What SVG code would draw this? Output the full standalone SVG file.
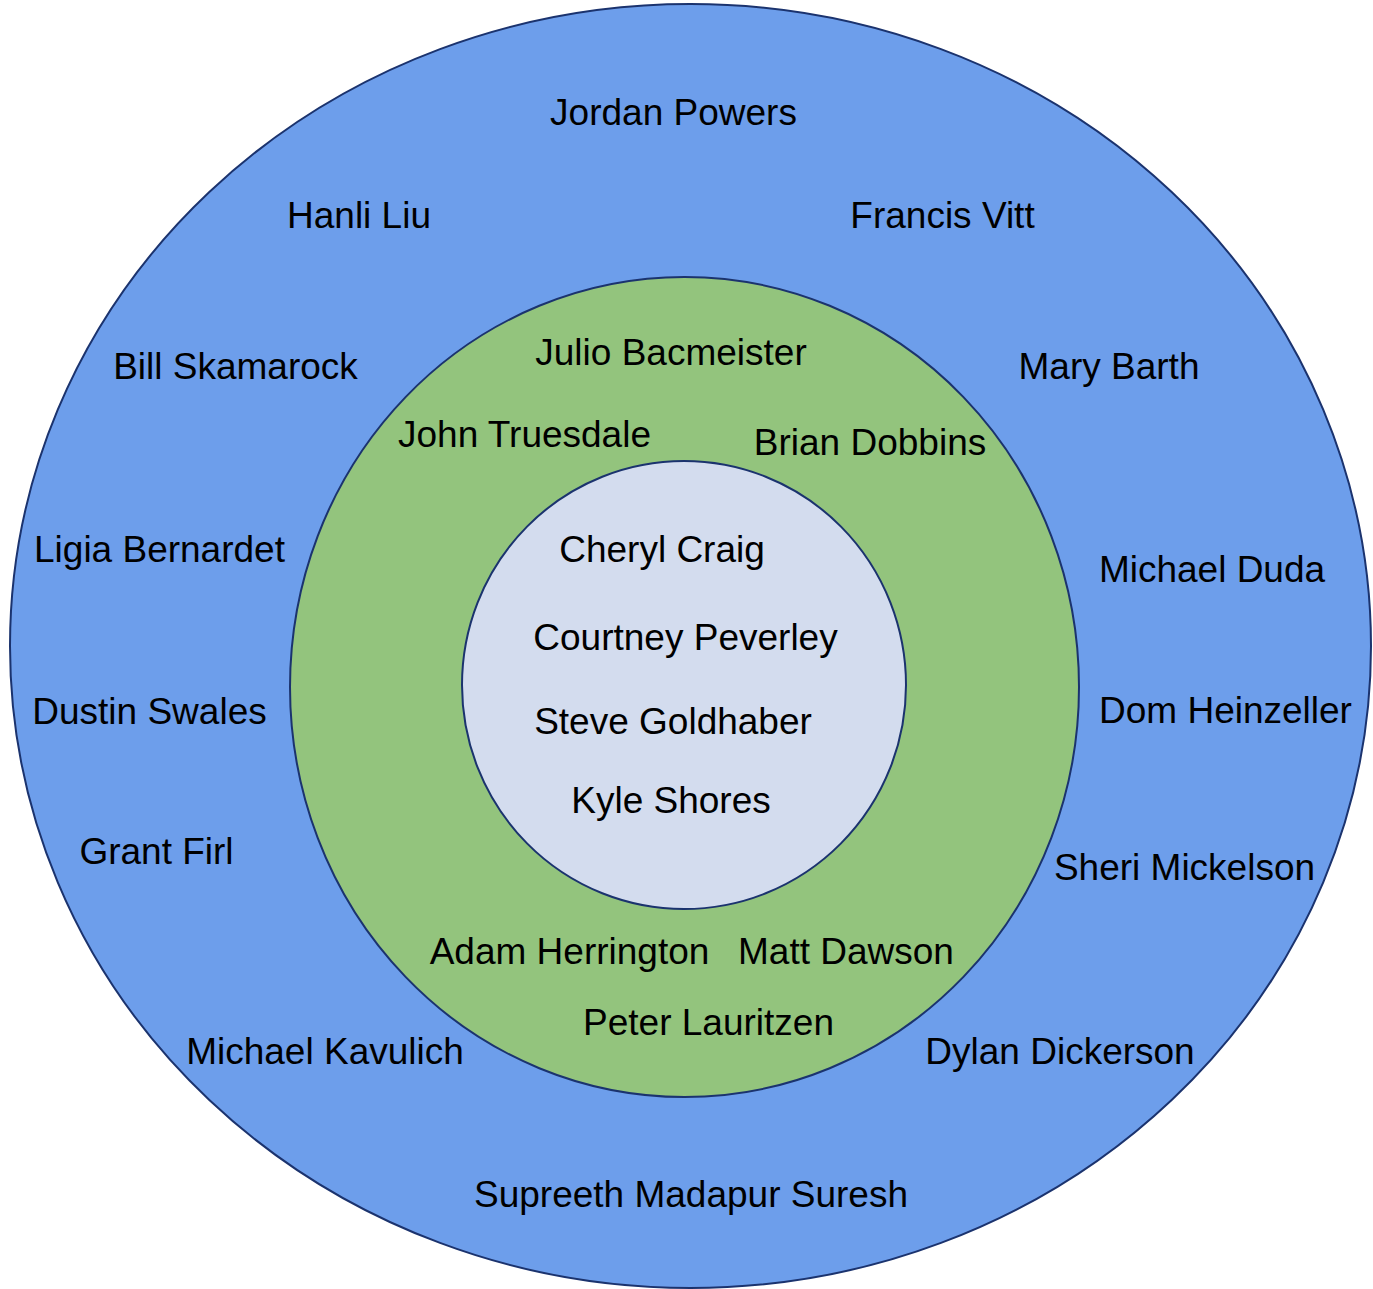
<svg xmlns="http://www.w3.org/2000/svg" width="1373" height="1289" viewBox="0 0 1373 1289">
<style>
.ring{stroke:#1b336e;stroke-width:2}
text{font-family:"Liberation Sans",Arial,Helvetica,sans-serif;font-size:37px;fill:#000;text-anchor:middle}
</style>
<rect width="1373" height="1289" fill="#ffffff"/>
<g id="outer">
<ellipse class="ring" cx="690.5" cy="646" rx="680.5" ry="642" fill="#6d9eeb"/>
</g>
<g id="middle">
<ellipse class="ring" cx="684.5" cy="687" rx="394.5" ry="410" fill="#93c47d"/>
</g>
<g id="inner">
<ellipse class="ring" cx="684" cy="685" rx="222" ry="224" fill="#d3dcee"/>
</g>
<g id="connectors"></g>
<g id="labels">
<text x="673.5" y="125">Jordan Powers</text>
<text x="359" y="228">Hanli Liu</text>
<text x="942.5" y="228">Francis Vitt</text>
<text x="235.5" y="379">Bill Skamarock</text>
<text x="1109" y="379">Mary Barth</text>
<text x="671" y="365">Julio Bacmeister</text>
<text x="524.5" y="447">John Truesdale</text>
<text x="870" y="455">Brian Dobbins</text>
<text x="159.5" y="562">Ligia Bernardet</text>
<text x="1212" y="582">Michael Duda</text>
<text x="662" y="562">Cheryl Craig</text>
<text x="685.5" y="650">Courtney Peverley</text>
<text x="673" y="734">Steve Goldhaber</text>
<text x="671" y="813">Kyle Shores</text>
<text x="149.5" y="724">Dustin Swales</text>
<text x="1225.5" y="723">Dom Heinzeller</text>
<text x="156.5" y="864">Grant Firl</text>
<text x="1184.5" y="880">Sheri Mickelson</text>
<text x="569.5" y="964">Adam Herrington</text>
<text x="846" y="964">Matt Dawson</text>
<text x="708.5" y="1035">Peter Lauritzen</text>
<text x="325" y="1064">Michael Kavulich</text>
<text x="1060" y="1064">Dylan Dickerson</text>
<text x="691" y="1207">Supreeth Madapur Suresh</text>
</g>
</svg>
